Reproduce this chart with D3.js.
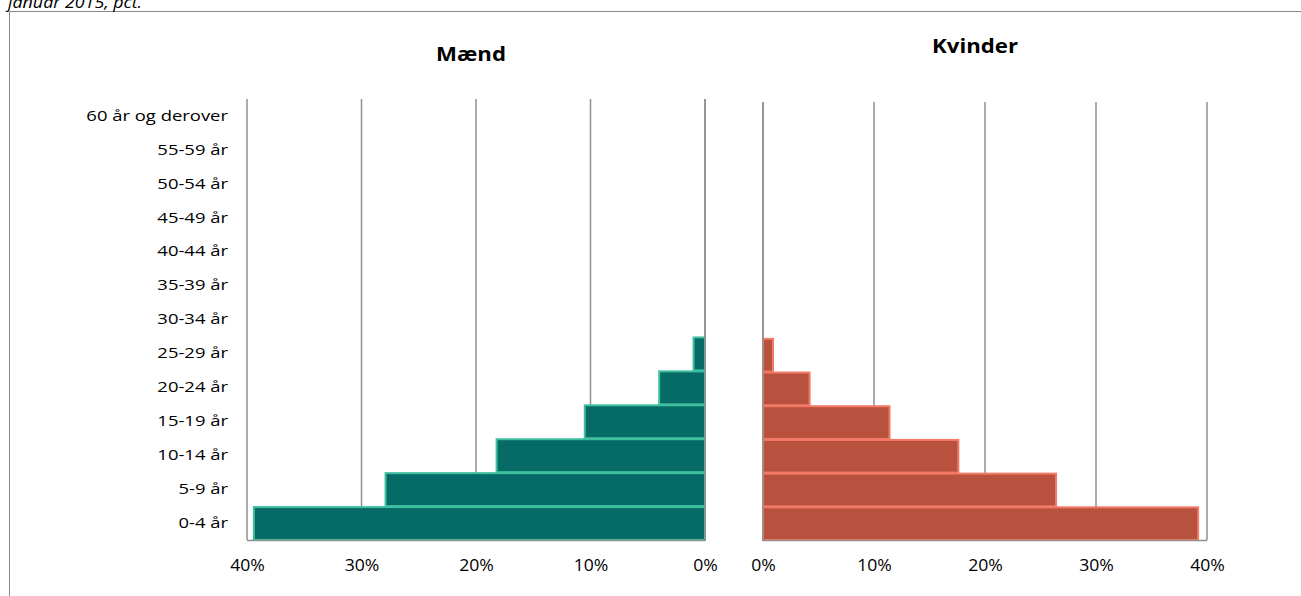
<!DOCTYPE html>
<html><head><meta charset="utf-8">
<script src="https://cdn.jsdelivr.net/npm/d3@7"></script>
<style>
body{margin:0;background:#fff;}
svg{display:block;font-family:"Open Sans",sans-serif;}
</style></head>
<body><svg id="c" width="1301" height="596"></svg>
<script>
const categories = ["0-4 år","5-9 år","10-14 år","15-19 år","20-24 år","25-29 år","30-34 år","35-39 år","40-44 år","45-49 år","50-54 år","55-59 år","60 år og derover"];
const maleValues   = [39.4, 27.9, 18.2, 10.5, 4.0, 1.0, 0, 0, 0, 0, 0, 0, 0];
const femaleValues = [39.2, 26.4, 17.6, 11.4, 4.2, 0.9, 0, 0, 0, 0, 0, 0, 0];
const tickValues = [0, 10, 20, 30, 40];
const titleText = "januar 2015, pct.";
const maleTitle = "Mænd";
const femaleTitle = "Kvinder";

const svg = d3.select("#c");
const grid = "#8f8f8f";

// frame
svg.append("path").attr("d","M9.5,596 V11.5 H1301").attr("fill","none").attr("stroke","#8a8a8a").attr("stroke-width",1);
svg.append("text").attr("transform","translate(8,8) scale(1.05,1)").attr("font-style","italic").attr("font-size",17).attr("fill","#000").text(titleText);

function panel(values, x, y, fill, stroke, title, tx, ty, leftLabels){
  const g = svg.append("g");
  g.selectAll("line.g").data(tickValues).join("line")
    .attr("x1",d=>x(d)).attr("x2",d=>x(d))
    .attr("y1",y.range()[1]).attr("y2",y.range()[0])
    .attr("stroke",grid).attr("stroke-width",1.5);
  const data = categories.map((c,i)=>({c, v:values[i]})).filter(d=>d.v>0);
  g.selectAll("rect").data(data).join("rect")
    .attr("x",d=>Math.min(x(0),x(d.v))).attr("width",d=>Math.abs(x(d.v)-x(0)))
    .attr("y",d=>y(d.c)+1).attr("height",y.bandwidth()-1)
    .attr("fill",fill).attr("stroke",stroke).attr("stroke-width",2);
  g.append("line").attr("x1",x(0)).attr("x2",x(0)).attr("y1",y.range()[1]).attr("y2",y.range()[0]+1)
    .attr("stroke",grid).attr("stroke-width",1.5);
  g.append("line").attr("x1",x(0)).attr("x2",x(40)).attr("y1",y.range()[0]+0.5).attr("y2",y.range()[0]+0.5)
    .attr("stroke",grid).attr("stroke-width",1.5);
  const ax = g.append("g").attr("transform",`translate(0,${y.range()[0]})`)
    .call(d3.axisBottom(x).tickValues(tickValues).tickFormat(d=>d+"%").tickSize(0).tickPadding(20));
  ax.select(".domain").remove();
  ax.selectAll("text").attr("font-size",16).attr("font-family","Open Sans").attr("fill","#000")
    .attr("transform","scale(1.1,1)");
  if(leftLabels){
    const sc = 1.23;
    const ay = g.append("g").attr("transform",`translate(${x(40)},0)`)
      .call(d3.axisLeft(y).tickSize(0).tickPadding(19));
    ay.select(".domain").remove();
    ay.selectAll("text").attr("font-size",15).attr("font-family","Open Sans").attr("fill","#000")
      .attr("x",-19/sc).attr("transform",`scale(${sc},1)`);
  }
  g.append("text").attr("transform",`translate(${tx},${ty}) scale(1.17,1)`).attr("text-anchor","middle")
    .attr("font-weight","bold").attr("font-size",19).attr("fill","#000").text(title);
}

const yM = d3.scaleBand().domain(categories).range([540, 99]).padding(0);
const xM = d3.scaleLinear().domain([0,40]).range([705,247]);
const yF = d3.scaleBand().domain(categories).range([540, 102]).padding(0);
const xF = d3.scaleLinear().domain([0,40]).range([763,1207]);

panel(maleValues, xM, yM, "#066b66", "#3fbf9f", maleTitle, 471, 61, true);
panel(femaleValues, xF, yF, "#b8523f", "#f27a66", femaleTitle, 975, 53, false);
</script></body></html>
